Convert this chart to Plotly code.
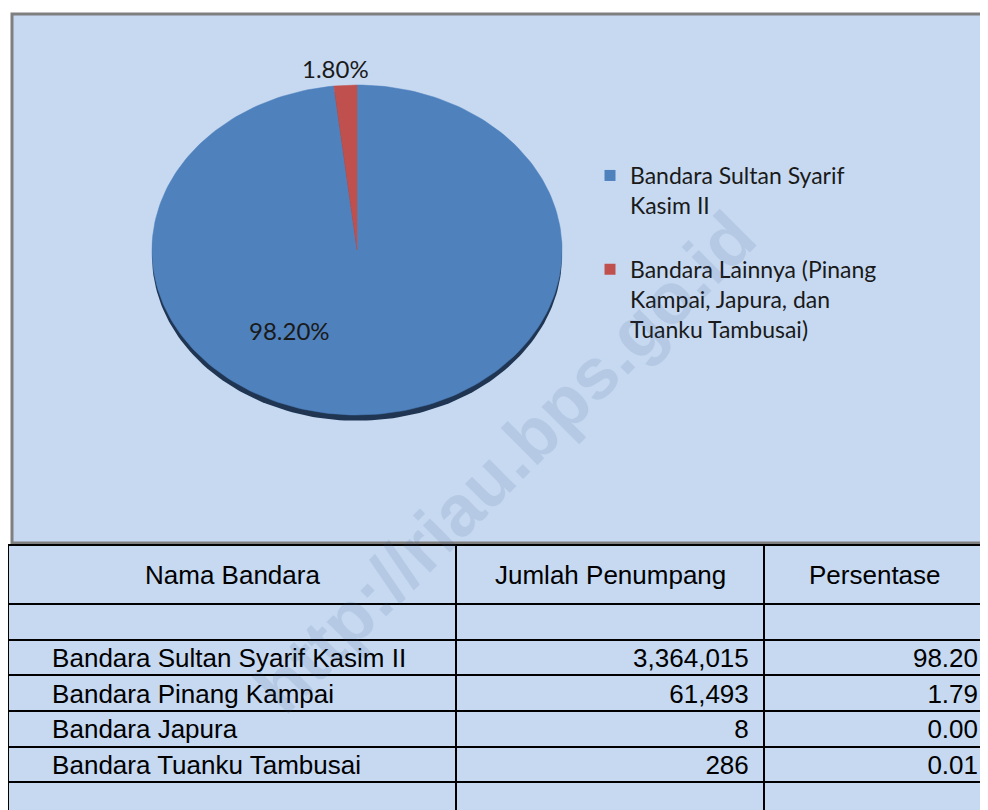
import numpy as np
import plotly.graph_objects as go

# ---------------- data ----------------
airports = ["Bandara Sultan Syarif Kasim II", "Bandara Pinang Kampai",
            "Bandara Japura", "Bandara Tuanku Tambusai"]
passengers = [3364015, 61493, 8, 286]
percentages = [98.20, 1.79, 0.00, 0.01]

pie_labels = ["Bandara Sultan Syarif<br>Kasim II",
              "Bandara Lainnya (Pinang<br>Kampai, Japura, dan<br>Tuanku Tambusai)"]
pie_shares = [98.20, 1.80]

table_headers = ["Nama Bandara", "Jumlah Penumpang", "Persentase"]

# ---------------- styles / layout ----------------
W, H = 988, 810
OFF = 8            # page body margin offset


def px(x):
    return (x - OFF) / W


def py(y):
    return 1 - (y - OFF) / H


BG = "#C6D9F1"
pie_colors = ["#4F81BD", "#C0504D"]
CX, CY, RX, RY, PAD = 357, 250, 205, 165, 1.12
label_pos = [(-0.327, -0.485), (-0.107, 1.103)]   # unit-ellipse positions of slice labels

TABLE_TOP, HEADER_H, ROW_H = 545, 59, 35.66
col_widths = [448, 308, 222]
TABLE_RIGHT = OFF + sum(col_widths)

fig = go.Figure()


def arc(a0, a1, n=240):
    t = np.radians(np.linspace(a0, a1, n))
    return np.cos(t), np.sin(t)


# shadow (3D rim)
sx, sy = arc(0, 360)
fig.add_trace(go.Scatter(x=sx, y=sy - 0.035, fill="toself", mode="lines",
                         line=dict(width=0, color="#1F3552"), fillcolor="#1F3552",
                         hoverinfo="skip", showlegend=False))

total = sum(pie_shares)
angle = 90.0
for share, color in zip(pie_shares, pie_colors):
    sweep = share / total * 360.0
    ax, ay = arc(angle, angle - sweep)
    angle -= sweep
    fig.add_trace(go.Scatter(x=np.concatenate([[0], ax, [0]]),
                             y=np.concatenate([[0], ay, [0]]),
                             fill="toself", mode="lines",
                             line=dict(width=0.5, color=color), fillcolor=color,
                             hoverinfo="skip", showlegend=False))

for i, (name, color) in enumerate(zip(pie_labels, pie_colors)):
    fig.add_trace(go.Scatter(x=[None], y=[None], mode="markers", name=name,
                             legendgroup=f"g{i}",
                             marker=dict(symbol="square", size=11, color=color)))

for share, (lx, ly) in zip(pie_shares, label_pos):
    fig.add_annotation(x=lx, y=ly, xref="x", yref="y", text=f"{share:.2f}%",
                       showarrow=False, xanchor="center", yanchor="middle",
                       font=dict(family="Lato", size=24, color="#1a1a1a"))

# table
nb = "\u00a0"
col1 = [""] + [nb * 5 + a for a in airports] + [""]
col2 = [""] + [f"{p:,}" + nb for p in passengers] + [""]
col3 = [""] + [f"{p:.2f}" for p in percentages] + [""]
FONT_T = dict(family="Arial, Liberation Sans", size=26, color="black")
fig.add_trace(go.Table(
    domain=dict(x=[0, px(TABLE_RIGHT)], y=[0, py(TABLE_TOP)]),
    columnwidth=col_widths,
    header=dict(values=["", "", ""], height=HEADER_H, align="center", fill_color=BG,
                line=dict(color="black", width=2), font=FONT_T),
    cells=dict(values=[col1, col2, col3], height=ROW_H, align=["left", "right", "right"],
               fill_color=BG, line=dict(color="black", width=2), font=FONT_T),
))
# header labels, vertically centred in the header row
left = OFF
for w, h in zip(col_widths, table_headers):
    fig.add_annotation(x=px(left + w / 2), y=py(TABLE_TOP + HEADER_H / 2),
                       xref="paper", yref="paper", text=h, showarrow=False,
                       xanchor="center", yanchor="middle", font=FONT_T)
    left += w

# watermark
fig.add_annotation(x=px(505), y=py(462), xref="paper", yref="paper",
                   text="<b>http://riau.bps.go.id</b>", textangle=-45, showarrow=False,
                   xanchor="center", yanchor="middle",
                   font=dict(family="Arial, Liberation Sans", size=72,
                             color="rgba(60,90,140,0.12)"))

# chart box
fig.add_shape(type="rect", xref="paper", yref="paper",
              x0=px(12), x1=1.02, y0=py(543), y1=py(14),
              fillcolor=BG, line=dict(color="#7F7F7F", width=3), layer="below")

fig.update_layout(
    width=W, height=H, margin=dict(l=0, r=0, t=0, b=0),
    paper_bgcolor="white", plot_bgcolor="rgba(0,0,0,0)",
    xaxis=dict(domain=[px(CX - PAD * RX), px(CX + PAD * RX)], range=[-PAD, PAD],
               visible=False, fixedrange=True),
    yaxis=dict(domain=[py(CY + PAD * RY), py(CY - PAD * RY)], range=[-PAD, PAD],
               visible=False, fixedrange=True),
    legend=dict(x=px(590), y=py(154), xanchor="left", yanchor="top",
                font=dict(family="Lato", size=23, color="#1a1a1a"),
                bgcolor="rgba(0,0,0,0)", traceorder="grouped", tracegroupgap=31,
                valign="top"),
    showlegend=True,
)

fig.write_html("out.html")
